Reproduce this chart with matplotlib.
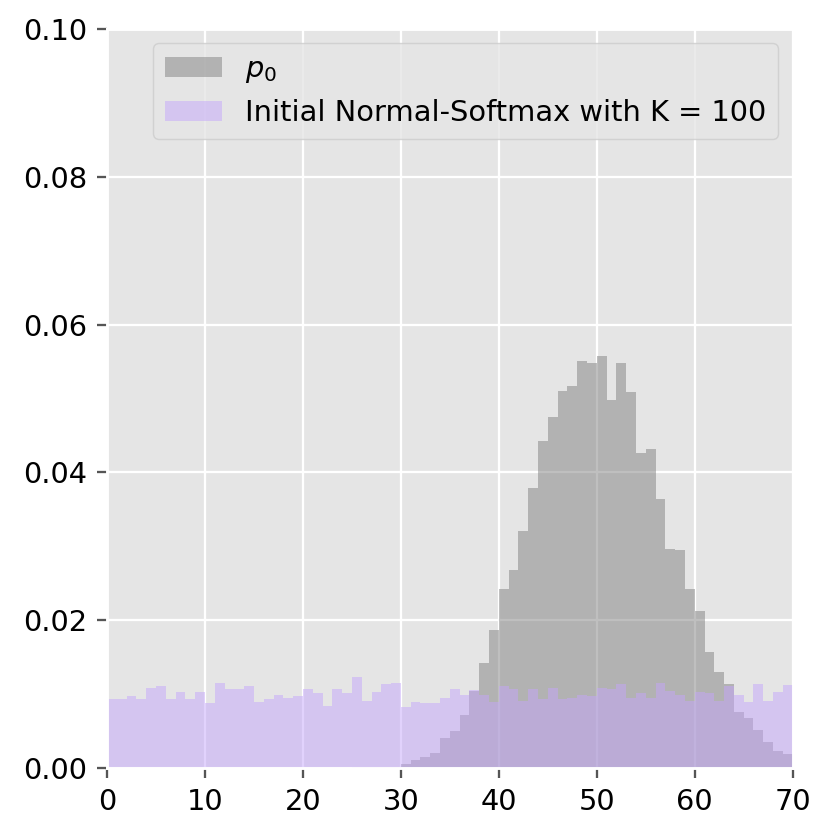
import numpy as np
import matplotlib
matplotlib.use('Agg')
import matplotlib.pyplot as plt

plt.style.use('ggplot')

# bin edges 0..70, width 1
edges = np.arange(0, 71, 1)

# p0 heights per bin
p0 = [0.0, 0.0, 0.0, 0.0, 0.0, 0.0, 0.0, 0.0, 0.0, 0.0,
      0.0, 0.0, 0.0, 0.0, 0.0, 0.0, 0.0, 0.0, 0.0, 0.0,
      0.0, 0.0, 0.0, 0.0, 0.0, 0.0001, 0.0001, 0.0001, 0.0001, 0.0001,
      0.0005, 0.001, 0.0015, 0.002, 0.004, 0.005, 0.0071, 0.0104, 0.0142, 0.0186,
      0.0242, 0.0268, 0.032, 0.0379, 0.0442, 0.0475, 0.051, 0.0517, 0.0551, 0.0548,
      0.0558, 0.0498, 0.0548, 0.0509, 0.0426, 0.0432, 0.0364, 0.0296, 0.0295, 0.0242,
      0.0212, 0.0157, 0.0129, 0.0113, 0.0075, 0.0067, 0.0051, 0.0035, 0.0023, 0.0018]

# initial normal-softmax, K = 100
init = [0.0093, 0.0093, 0.0097, 0.0093, 0.0108, 0.0111, 0.0093, 0.0102, 0.0093, 0.0102,
        0.0087, 0.0115, 0.0106, 0.0106, 0.0111, 0.0089, 0.0093, 0.0098, 0.0095, 0.0097,
        0.0107, 0.0101, 0.0083, 0.0106, 0.0101, 0.0123, 0.0091, 0.0103, 0.0113, 0.0115,
        0.0082, 0.0089, 0.0087, 0.0087, 0.0094, 0.0106, 0.0098, 0.0105, 0.0098, 0.0089,
        0.011, 0.0107, 0.0091, 0.0106, 0.0093, 0.0108, 0.0093, 0.0095, 0.0099, 0.0097,
        0.0108, 0.0107, 0.0113, 0.0094, 0.0101, 0.0095, 0.0115, 0.0104, 0.0099, 0.0091,
        0.0103, 0.0101, 0.0091, 0.011, 0.0098, 0.0089, 0.0113, 0.0091, 0.0102, 0.0112]

fig = plt.figure(figsize=(4, 4), dpi=207.5)
ax = fig.add_subplot(111)
fig.subplots_adjust(left=0.129, right=0.955, top=0.965, bottom=0.075)

ax.bar(edges[:-1], p0, width=1, align='edge', color='gray', alpha=0.5, label='$p_0$')
ax.bar(edges[:-1], init, width=1, align='edge', color='#c4a6fb', alpha=0.5,
       label='Initial Normal-Softmax with K = 100')

ax.set_xlim(0, 70)
ax.set_ylim(0, 0.1)
ax.set_xticks(np.arange(0, 71, 10))
ax.set_yticks(np.arange(0, 0.101, 0.02))
ax.set_yticklabels(['%.2f' % v for v in np.arange(0, 0.101, 0.02)])
ax.tick_params(labelsize=10, labelcolor='black')

ax.legend(loc='upper right', fontsize=10)

plt.savefig('out.png', dpi=207.5)
